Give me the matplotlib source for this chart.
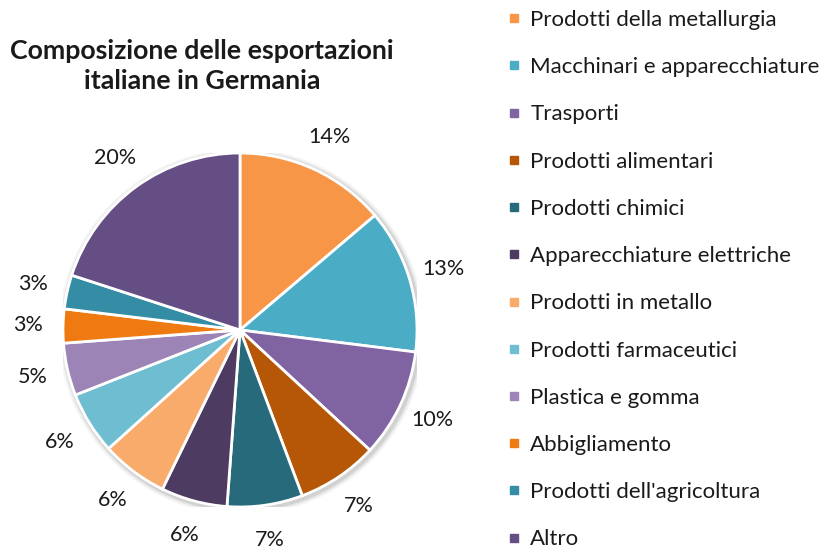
import matplotlib
matplotlib.use("Agg")
import matplotlib.pyplot as plt
from matplotlib.lines import Line2D
from matplotlib.patches import Circle

# data
categories = ["Prodotti della metallurgia", "Macchinari e apparecchiature",
              "Trasporti", "Prodotti alimentari", "Prodotti chimici",
              "Apparecchiature elettriche", "Prodotti in metallo",
              "Prodotti farmaceutici", "Plastica e gomma", "Abbigliamento",
              "Prodotti dell'agricoltura", "Altro"]
shares = [13.8, 13.2, 9.9, 7.4, 6.9, 6.05, 6.1, 5.7, 4.8, 3.1, 3.1, 20.0]
colors = ["#F79646", "#4BACC6", "#8064A2", "#B65708", "#276A7C", "#4D3B62",
          "#F9AB6B", "#6FBDD1", "#9C85B6", "#F07A12", "#358DA5", "#644E84"]

plt.rcParams["font.family"] = ["Lato", "DejaVu Sans"]

fig = plt.figure(figsize=(8.27, 5.53), dpi=100)
W, H = 827, 553
cx, cy, r = 240, 330, 177
ax = fig.add_axes([(cx - r) / W, (H - cy - r) / H, 2 * r / W, 2 * r / H])

# soft shadow around the pie
for k, a in [(1.035, 0.04), (1.025, 0.06), (1.015, 0.09)]:
    ax.add_patch(Circle((0.01, -0.01), k, color="black", alpha=a, lw=0, zorder=0))

wedges, texts, autotexts = ax.pie(
    shares, colors=colors, startangle=90, counterclock=False,
    autopct=lambda p: "%d%%" % round(p), pctdistance=1.2,
    wedgeprops=dict(edgecolor="white", linewidth=2),
    textprops=dict(fontsize=15.5, color="#1a1a1a"))
for w in wedges:
    w.set_zorder(2)
ax.set_xlim(-1, 1)
ax.set_ylim(-1, 1)
ax.set_aspect("equal")
ax.axis("off")
for t in autotexts:
    t.set_clip_on(False)

fig.text(202 / W, 1 - 66 / H, "Composizione delle esportazioni\nitaliane in Germania",
         ha="center", va="center", fontsize=19.3, fontweight="bold",
         linespacing=1.28, color="#1a1a1a")

handles = [Line2D([], [], marker="s", linestyle="none", markersize=6,
                  markerfacecolor=c, markeredgecolor=c) for c in colors]
leg = fig.legend(handles, categories, loc="upper left",
                 bbox_to_anchor=(508 / W, 1 - 10 / H), frameon=False,
                 fontsize=16, labelspacing=1.225, handlelength=0.55,
                 handletextpad=0.45, borderaxespad=0, borderpad=0)
for t in leg.get_texts():
    t.set_color("#1a1a1a")

fig.savefig("out.png", dpi=100)
